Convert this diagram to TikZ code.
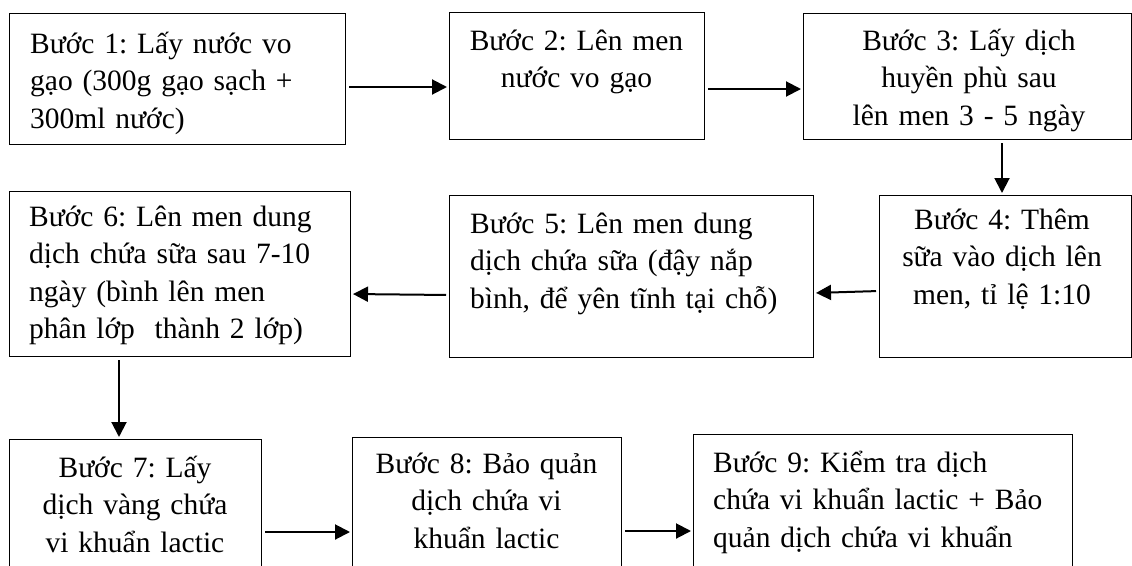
\documentclass[tikz,border=0pt]{standalone}
\usepackage{fontspec}
\setmainfont{Liberation Serif}
\usetikzlibrary{arrows.meta,calc}
\tikzset{
  box/.style={draw=black, line width=1pt, anchor=north west, inner sep=0pt, minimum width=#1},
  txt/.style={inner sep=0pt, font=\fontsize{29.5}{37.5}\selectfont, text width=#1},
  txtl/.style={txt=#1, anchor=north west, align=left},
  txtc/.style={txt=#1, anchor=north, align=center},
  flow/.style={line width=2pt, -{Triangle[length=15pt,width=15pt]}, shorten <=3pt, shorten >=2pt}
}
\newcommand{\firstln}{\rule{0pt}{32pt}}
\frenchspacing
\begin{document}
\begin{tikzpicture}[x=1pt,y=-1pt]
\useasboundingbox (0,0) rectangle (1132,565);
\clip (0,0) rectangle (1132,565);
% boxes
\node[box=336pt, minimum height=131pt] (b1) at (9,13) {};
\node[box=255pt, minimum height=127pt] (b2) at (449,12) {};
\node[box=328pt, minimum height=126pt] (b3) at (803,13) {};
\node[box=252pt, minimum height=162pt] (b4) at (879,195) {};
\node[box=364pt, minimum height=162pt] (b5) at (449,195) {};
\node[box=341pt, minimum height=165pt] (b6) at (9,191) {};
\node[box=252pt, minimum height=200pt] (b7) at (9,439) {};
\node[box=269pt, minimum height=200pt] (b8) at (352,437) {};
\node[box=379pt, minimum height=200pt] (b9) at (693,434) {};
% texts
\node[txtl=320pt] (t1) at (30,21) {\firstln Bước 1: Lấy nước vo\\gạo (300g gạo sạch +\\300ml nước)};
\node[txtc=250pt] (t2) at (576.5,18) {\firstln Bước 2: Lên men\\nước vo gạo};
\node[txtc=320pt] (t3) at (969,18) {\firstln Bước 3: Lấy dịch\\huyền phù sau\\lên men 3 - 5 ngày};
\node[txtc=250pt] (t4) at (1002,197) {\firstln Bước 4: Thêm\\sữa vào dịch lên\\men, tỉ lệ 1:10};
\node[txtl=340pt] (t5) at (470,201) {\firstln Bước 5: Lên men dung\\dịch chứa sữa (đậy nắp\\bình, để yên tĩnh tại chỗ)};
\begin{scope}
\clip (9,191) rectangle (350,346);
\node[txtl=320pt] (t6) at (29,194) {\firstln Bước 6: Lên men dung\\dịch chứa sữa sau 7-10\\ngày (bình lên men\\phân lớp\ \ thành 2 lớp)};
\end{scope}
\node[txtc=250pt] (t7) at (135,445) {\firstln Bước 7: Lấy\\dịch vàng chứa\\vi khuẩn lactic};
\node[txtc=265pt] (t8) at (486.5,441) {\firstln Bước 8: Bảo quản\\dịch chứa vi\\khuẩn lactic};
\node[txtl=360pt] (t9) at (713,440) {\firstln Bước 9: Kiểm tra dịch\\chứa vi khuẩn lactic + Bảo\\quản dịch chứa vi khuẩn};
% connectors
\draw[flow] ($(b1.north east)+(0,74)$) -- ($(b2.north west)+(0,75)$);
\draw[flow] ($(b2.north east)+(0,77)$) -- ($(b3.north west)+(0,76)$);
\draw[flow] ($(b3.south west)+(199,0)$) -- ($(b4.north west)+(123,0)$);
\draw[flow] ($(b4.north west)+(0,96)$) -- ($(b5.north east)+(0,98)$);
\draw[flow] ($(b5.north west)+(0,100)$) -- ($(b6.north east)+(0,103)$);
\draw[flow] ($(b6.south west)+(110,0)$) -- ($(b7.north west)+(110,0)$);
\draw[flow] ($(b7.north east)+(0,93)$) -- ($(b8.north west)+(0,95)$);
\draw[flow] ($(b8.north east)+(0,94)$) -- ($(b9.north west)+(0,97)$);
\end{tikzpicture}
\end{document}
